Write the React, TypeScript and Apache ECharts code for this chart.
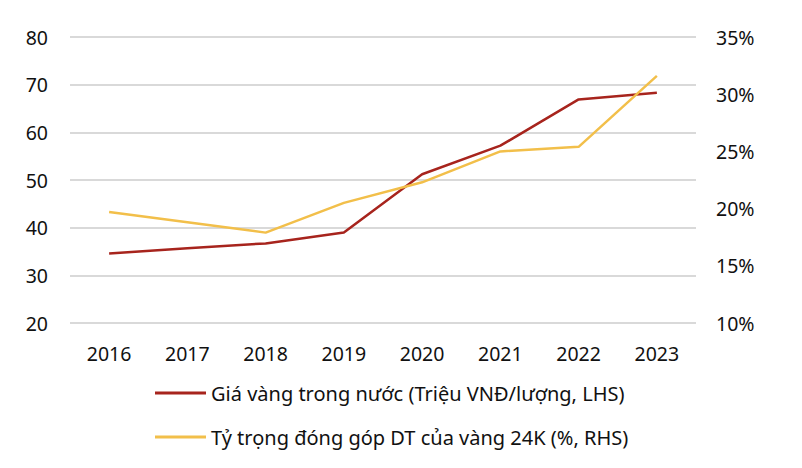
import React, { useEffect, useRef } from "react";
import * as echarts from "echarts";

const years = ["2016", "2017", "2018", "2019", "2020", "2021", "2022", "2023"];
const goldPrice = [34.6, 35.7, 36.7, 39.0, 51.2, 57.2, 66.9, 68.3];
const goldShare = [19.7, 18.8, 17.9, 20.5, 22.3, 25.0, 25.4, 31.6];
const priceName = "Giá vàng trong nước (Triệu VNĐ/lượng, LHS)";
const shareName = "Tỷ trọng đóng góp DT của vàng 24K (%, RHS)";

const FONT = "Noto Sans";
const RED = "#A7241D";
const YELLOW = "#F2BF4A";

export default function App() {
  const ref = useRef<HTMLDivElement>(null);
  useEffect(() => {
    if (!ref.current) return;
    const chart = echarts.init(ref.current, null, { renderer: "svg" });
    const legendBase = {
      orient: "vertical",
      left: 147,
      padding: 0,
      itemWidth: 51,
      itemHeight: 3,
      icon: "rect",
      textStyle: { fontFamily: FONT, fontSize: 20, color: "#111", padding: [0, 0, 0, 0] },
    };
    const tickLabel = { fontFamily: FONT, fontSize: 19.5, color: "#111" };
    chart.setOption({
      animation: false,
      textStyle: { fontFamily: FONT },
      grid: { left: 62, right: 98, top: 29, bottom: 137, containLabel: false },
      legend: [
        { ...legendBase, top: 375, data: [priceName] },
        { ...legendBase, top: 419, data: [shareName] },
      ],
      xAxis: {
        type: "category",
        data: years,
        boundaryGap: true,
        axisLine: { show: false },
        axisTick: { show: false },
        axisLabel: { ...tickLabel, margin: 20 },
      },
      yAxis: [
        {
          type: "value",
          min: 20,
          max: 80,
          interval: 10,
          axisLine: { show: false },
          axisTick: { show: false },
          axisLabel: { ...tickLabel, margin: 22 },
          splitLine: { lineStyle: { color: "#d9d9d9", width: 2 } },
        },
        {
          type: "value",
          min: 10,
          max: 35,
          interval: 5,
          position: "right",
          axisLine: { show: false },
          axisTick: { show: false },
          axisLabel: {
            ...tickLabel,
            margin: 20,
            formatter: (v: number) => `${v}%`,
          },
          splitLine: { show: false },
        },
      ],
      series: [
        {
          name: priceName,
          type: "line",
          yAxisIndex: 0,
          data: goldPrice,
          symbol: "none",
          lineStyle: { color: RED, width: 2.5 },
          itemStyle: { color: RED },
        },
        {
          name: shareName,
          type: "line",
          yAxisIndex: 1,
          data: goldShare,
          symbol: "none",
          lineStyle: { color: YELLOW, width: 2.5 },
          itemStyle: { color: YELLOW },
        },
      ],
    });
    return () => chart.dispose();
  }, []);
  return <div ref={ref} style={{ width: 786, height: 452 }} />;
}
